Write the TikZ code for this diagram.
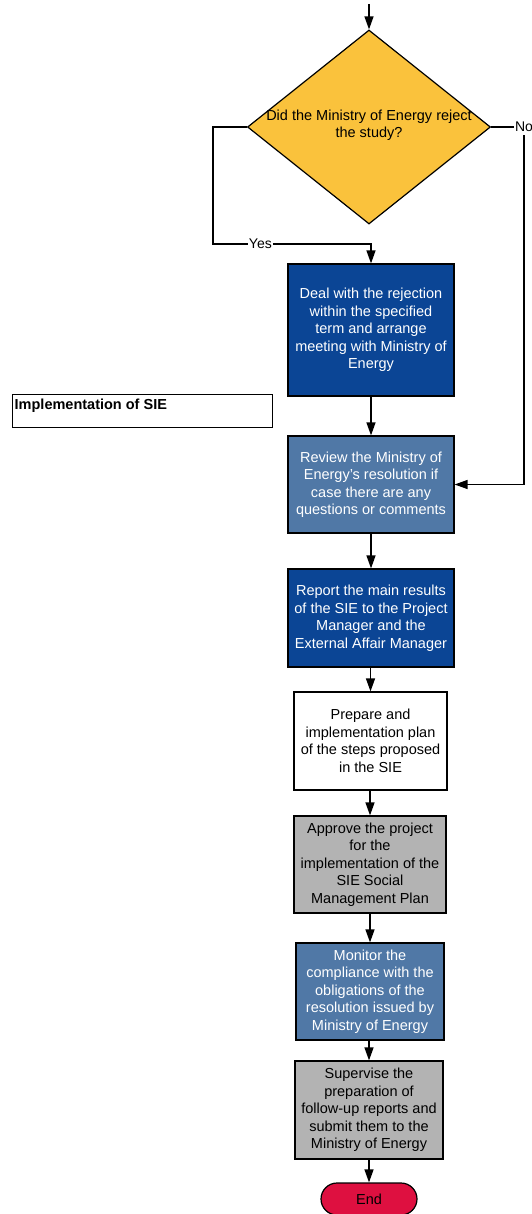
\documentclass[tikz,border=0pt]{standalone}
\usepackage{fontspec}
\setmainfont{Liberation Sans}
\usetikzlibrary{shapes.geometric,arrows.meta}
\definecolor{deepblue}{RGB}{11,69,149}
\definecolor{steelblue}{RGB}{80,120,166}
\definecolor{boxgray}{RGB}{179,179,179}
\definecolor{ochre}{RGB}{250,194,60}
\definecolor{endred}{RGB}{222,16,64}
\begin{document}
\begin{tikzpicture}[x=1pt, y=-1pt,
    box/.style={draw=black, line width=1.2pt, align=center, inner sep=0pt,
      font=\fontsize{14.5}{17.5}\selectfont},
    decision/.style={diamond, draw=black, fill=ochre, line width=1.2pt,
      minimum width=243pt, minimum height=194pt, inner sep=0pt},
    terminal/.style={draw=black, fill=endred, line width=1.2pt, rounded corners=16pt,
      minimum width=96pt, minimum height=32pt, font=\fontsize{14.5}{17}\selectfont},
    flow/.style={line width=1.3pt, -{Triangle[length=13pt,width=9pt]}},
    tag/.style={fill=white, inner xsep=1pt, inner ysep=3pt, font=\fontsize{14}{16}\selectfont}]
    \useasboundingbox (0,0) rectangle (532,1214);
    % Decision
    \coordinate (start) at (369,4);
    \node[decision] (q) at (369,127) {};
    \node[align=center, font=\fontsize{14.5}{17}\selectfont] (qtext) at (369,125.5)
      {Did the Ministry of Energy reject\\the study?};
    % Lane title
    \node[draw=black, line width=1pt, minimum width=260pt, minimum height=33pt,
      label={[anchor=north west, inner xsep=3pt, inner ysep=5pt, font=\bfseries\fontsize{14.5}{16}\selectfont]north west:Implementation of SIE}]
      (lane) at (142,410.5) {};
    % Process steps
    \node[box, fill=deepblue, text=white, minimum width=166pt, minimum height=132pt] (b1) at (371,330)
      {Deal with the rejection\\within the specified\\term and arrange\\meeting with Ministry of\\Energy};
    \node[box, fill=steelblue, text=white, minimum width=166pt, minimum height=97pt] (b2) at (371,484.5)
      {Review the Ministry of\\Energy's resolution if\\case there are any\\questions or comments};
    \node[box, fill=deepblue, text=white, minimum width=166pt, minimum height=98pt] (b3) at (371,618)
      {Report the main results\\of the SIE to the Project\\Manager and the\\External Affair Manager};
    \node[box, fill=white, minimum width=153pt, minimum height=98pt] (b4) at (370.5,741)
      {Prepare and\\implementation plan\\of the steps proposed\\in the SIE};
    \node[box, fill=boxgray, minimum width=152pt, minimum height=97pt] (b5) at (370,864.5)
      {Approve the project\\for the\\implementation of the\\SIE Social\\Management Plan};
    \node[box, fill=steelblue, text=white, minimum width=148pt, minimum height=97pt] (b6) at (370,991.5)
      {Monitor the\\compliance with the\\obligations of the\\resolution issued by\\Ministry of Energy};
    \node[box, fill=boxgray, minimum width=148pt, minimum height=98pt] (b7) at (369,1110)
      {Supervise the\\preparation of\\follow-up reports and\\submit them to the\\Ministry of Energy};
    \node[terminal] (end) at (369,1199) {End};
    % Connectors
    \draw[flow] (start) -- (q.north);
    \draw[flow] (q.west) -| (213,244) -| node[tag, pos=0.15] {Yes} (b1.north);
    \draw[flow] (q.east) -| node[tag, pos=0.5] {No} (524,484.5) -- (b2.east);
    \foreach \a/\b in {b1/b2, b2/b3, b3/b4, b4/b5, b5/b6, b6/b7, b7/end}
      \draw[flow] (\a.south -| \b.north) -- (\b.north);
\end{tikzpicture}
\end{document}
